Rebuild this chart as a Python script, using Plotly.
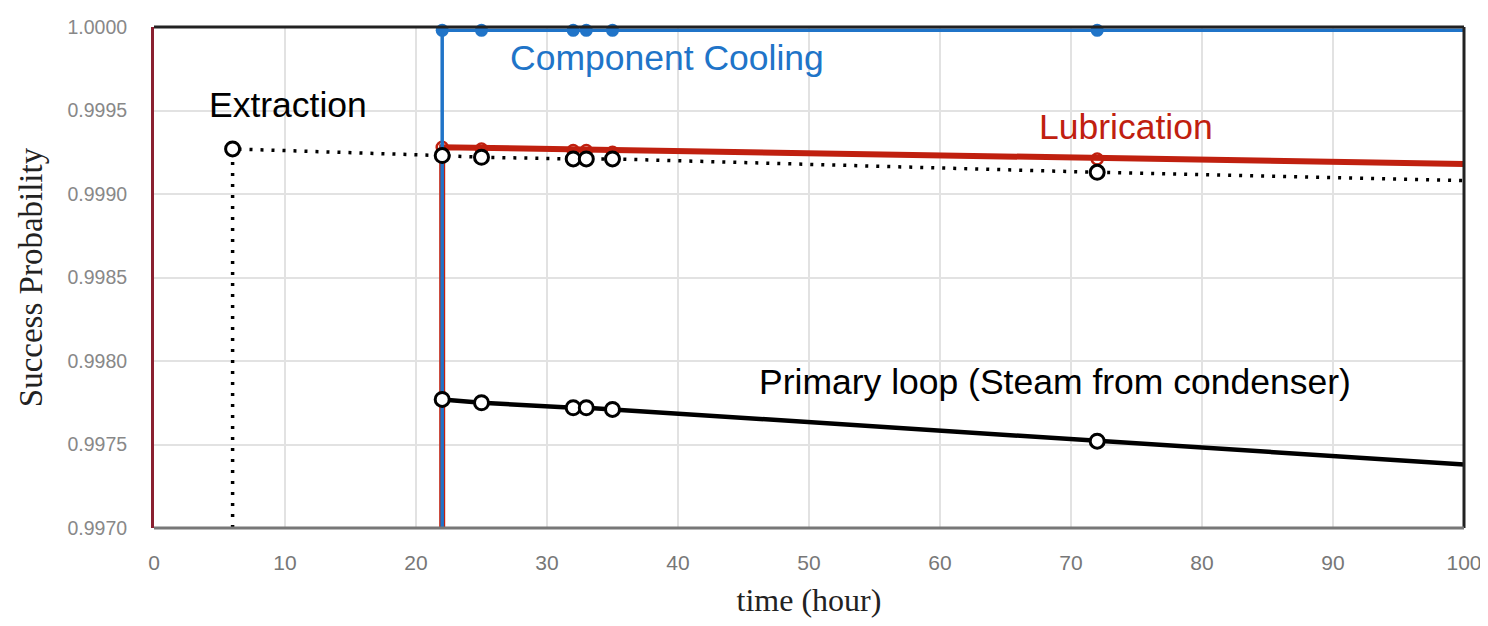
import plotly.graph_objects as go

# ---- data ----
mark_times = [22, 25, 32, 33, 35, 72]

cooling_line_x = [22, 22, 100]
cooling_line_y = [0.9970, 0.99998, 0.99998]
cooling_mark_y = [0.99998, 0.99998, 0.99998, 0.99998, 0.99998, 0.99998]

lub_line_x = [22, 22, 100]
lub_line_y = [0.9970, 0.99928, 0.99918]
lub_mark_y = [0.99928, 0.99927, 0.99926, 0.99926, 0.99925, 0.99921]

ext_line_x = [6, 6, 22, 25, 32, 33, 35, 72, 100]
ext_line_y = [0.9970, 0.99927, 0.99923, 0.99922, 0.99921, 0.99921, 0.99921, 0.99913, 0.99908]
ext_mark_x = [6, 22, 25, 32, 33, 35, 72]
ext_mark_y = [0.99927, 0.99923, 0.99922, 0.99921, 0.99921, 0.99921, 0.99913]

prim_line_x = [22, 25, 32, 33, 35, 72, 100]
prim_line_y = [0.99777, 0.99775, 0.99772, 0.99772, 0.99771, 0.99752, 0.99738]

x_ticks = [0, 10, 20, 30, 40, 50, 60, 70, 80, 90, 100]
y_ticks = [0.9970, 0.9975, 0.9980, 0.9985, 0.9990, 0.9995, 1.0000]

BLUE = "#2074c8"
RED = "#c0200f"

fig = go.Figure()

# Lubrication
fig.add_trace(go.Scatter(x=lub_line_x, y=lub_line_y, mode="lines",
                         line=dict(color=RED, width=6), showlegend=False))
fig.add_trace(go.Scatter(x=mark_times, y=lub_mark_y, mode="markers",
                         marker=dict(symbol="circle-open", size=11, color=RED,
                                     line=dict(width=2.5, color=RED)), showlegend=False))
# Component cooling
fig.add_trace(go.Scatter(x=cooling_line_x, y=cooling_line_y, mode="lines",
                         line=dict(color=BLUE, width=3.5), showlegend=False))
fig.add_trace(go.Scatter(x=mark_times, y=cooling_mark_y, mode="markers",
                         marker=dict(size=13, color=BLUE), cliponaxis=False, showlegend=False))
# Extraction
fig.add_trace(go.Scatter(x=ext_line_x, y=ext_line_y, mode="lines",
                         line=dict(color="black", width=3.5, dash="3px,8px"), showlegend=False))
fig.add_trace(go.Scatter(x=ext_mark_x, y=ext_mark_y, mode="markers",
                         marker=dict(size=14, color="white",
                                     line=dict(width=3, color="black")), showlegend=False))
# Primary loop
fig.add_trace(go.Scatter(x=prim_line_x, y=prim_line_y, mode="lines",
                         line=dict(color="black", width=4.5), showlegend=False))
fig.add_trace(go.Scatter(x=prim_line_x[:-1], y=prim_line_y[:-1], mode="markers",
                         marker=dict(size=14, color="white",
                                     line=dict(width=3, color="black")), showlegend=False))

ann_font = "Liberation Sans, Arial, sans-serif"
annotations = [
    dict(x=27.0, y=0.999814, text="Component Cooling", color=BLUE),
    dict(x=4.05, y=0.99953, text="Extraction", color="black"),
    dict(x=67.4, y=0.99940, text="Lubrication", color=RED),
    dict(x=46.0, y=0.997874, text="Primary loop (Steam from condenser)", color="black"),
]
for a in annotations:
    fig.add_annotation(x=a["x"], y=a["y"], text=a["text"], showarrow=False,
                       xanchor="left", yanchor="middle",
                       font=dict(family=ann_font, size=35.5, color=a["color"]))

fig.update_layout(
    width=1480, height=618,
    margin=dict(l=146, r=24, t=19, b=98, autoexpand=False),
    paper_bgcolor="white", plot_bgcolor="white",
    shapes=[
        dict(type="line", xref="paper", yref="paper", x0=0, y0=1, x1=1, y1=1,
             line=dict(color="#222", width=3), layer="above"),
        dict(type="line", xref="paper", yref="paper", x0=1, y0=0, x1=1, y1=1,
             line=dict(color="#222", width=3), layer="above"),
        dict(type="line", xref="paper", yref="paper", x0=0, y0=0, x1=1, y1=0,
             line=dict(color="#777", width=3), layer="above"),
    ],
)
fig.update_xaxes(range=[0, 100], tickvals=x_ticks, ticktext=[str(v) for v in x_ticks],
                 automargin=False,
                 showgrid=True, gridcolor="#e2e2e2", gridwidth=1.5, zeroline=False,
                 ticks="outside", ticklen=16, tickcolor="white",
                 tickfont=dict(family=ann_font, size=21, color="#777"),
                 title=dict(text="time (hour)",
                            font=dict(family="Liberation Serif, Times New Roman, serif", size=32, color="#222")))
fig.update_yaxes(range=[0.9970, 1.0000], tickvals=y_ticks,
                 ticktext=[f"{v:.4f}" for v in y_ticks],
                 automargin=False,
                 showgrid=True, gridcolor="#e2e2e2", gridwidth=1.5, zeroline=False,
                 ticks="outside", ticklen=20, tickcolor="white",
                 tickfont=dict(family=ann_font, size=19.5, color="#888"),
                 showline=True, linecolor="#8a2030", linewidth=3,
                 title=dict(text="Success Probability",
                            font=dict(family="Liberation Serif, Times New Roman, serif", size=33, color="#222")))

fig.write_html("out.html")
